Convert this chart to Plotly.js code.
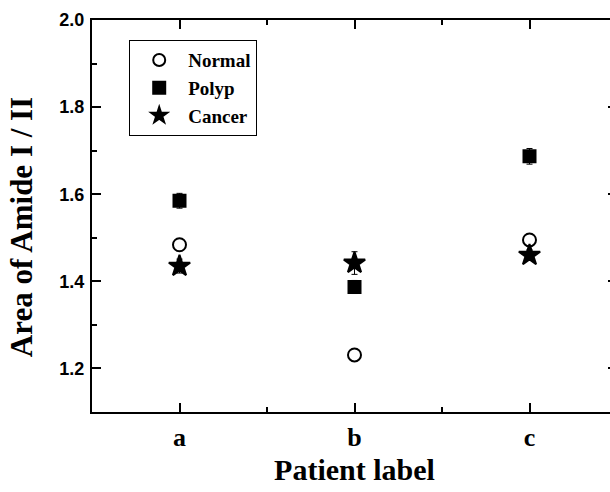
<!DOCTYPE html>
<html>
<head>
<meta charset="utf-8">
<script src="https://cdn.plot.ly/plotly-3.0.1.min.js"></script>
<style>
  html, body { margin: 0; padding: 0; overflow: hidden; background: #fff; }
  #chart { width: 620px; height: 492px; }
</style>
</head>
<body>
<div id="chart"></div>
<script>
// Patients and the amide I / II area ratio for each tissue type
const patients = ['a', 'b', 'c'];
const normalVals = [1.484, 1.231, 1.495];
const polypVals  = [1.585, 1.387, 1.687];
const cancerVals = [1.435, 1.442, 1.460];
const polypErr  = [0.017, 0.015, 0.018];
const cancerErr = [0.016, 0.026, 0.012];
const yTitle = 'Area of Amide I / II';
const xTitle = 'Patient label';

const xPos = patients.map((_, i) => i);
const serif = 'Liberation Serif, Times New Roman, serif';
const sans = 'Liberation Sans, Arial, sans-serif';

function series(name, vals, errs, symbol, size) {
  const trace = {
    type: 'scatter', mode: 'markers', name: name,
    x: xPos, y: vals,
    marker: { symbol: symbol, size: size, color: '#000', line: { color: '#000', width: 2 } }
  };
  if (errs) {
    trace.error_y = { type: 'data', array: errs, visible: true, color: '#000', thickness: 1, width: 3 };
  }
  return trace;
}

const data = [
  series('Normal', normalVals, null, 'circle-open', 13),
  series('Polyp', polypVals, polypErr, 'square', 12),
  series('Cancer', cancerVals, cancerErr, 'star', 16)
];

const layout = {
  width: 620, height: 492,
  margin: { l: 92, r: 3, t: 20, b: 80 },
  paper_bgcolor: '#fff', plot_bgcolor: '#fff',
  showlegend: true,
  legend: {
    x: 0.0705, y: 0.949, xanchor: 'left', yanchor: 'top',
    bordercolor: '#000', borderwidth: 1.2, bgcolor: '#fff',
    font: { family: serif, size: 19, color: '#000', weight: 'bold' },
    tracegroupgap: 0, itemwidth: 48, itemsizing: 'constant'
  },
  xaxis: {
    range: [-0.5, 2.5], tickmode: 'array', tickvals: xPos, ticktext: patients,
    showgrid: false, zeroline: false,
    showline: true, linecolor: '#000', linewidth: 2, mirror: 'ticks',
    ticks: 'inside', ticklen: 9, tickwidth: 2, tickcolor: '#000',
    minor: { tickmode: 'array', tickvals: [0.5, 1.5], ticks: 'inside', ticklen: 5, tickwidth: 2, tickcolor: '#000' },
    tickfont: { family: serif, size: 26, color: '#000', weight: 'bold' },
    ticklabelstandoff: 1,
    title: { text: xTitle, font: { family: serif, size: 30, color: '#000', weight: 'bold' }, standoff: 8 }
  },
  yaxis: {
    range: [1.1, 2.0], tick0: 1.2, dtick: 0.2, tickformat: '.1f',
    showgrid: false, zeroline: false,
    showline: true, linecolor: '#000', linewidth: 2, mirror: 'ticks',
    ticks: 'inside', ticklen: 9, tickwidth: 2, tickcolor: '#000',
    minor: { dtick: 0.1, ticks: 'inside', ticklen: 5, tickwidth: 2, tickcolor: '#000' },
    tickfont: { family: sans, size: 18, color: '#000', weight: 'bold' },
    ticklabelstandoff: 2
  },
  // vertical axis title, set a little below the plot's mid-height
  annotations: [{
    text: yTitle, textangle: -90, showarrow: false,
    xref: 'paper', yref: 'paper', x: -0.133, y: 0.472,
    xanchor: 'center', yanchor: 'middle',
    font: { family: serif, size: 31, color: '#000', weight: 'bold' }
  }]
};

Plotly.newPlot('chart', data, layout, { displayModeBar: false, staticPlot: true });
</script>
</body>
</html>
